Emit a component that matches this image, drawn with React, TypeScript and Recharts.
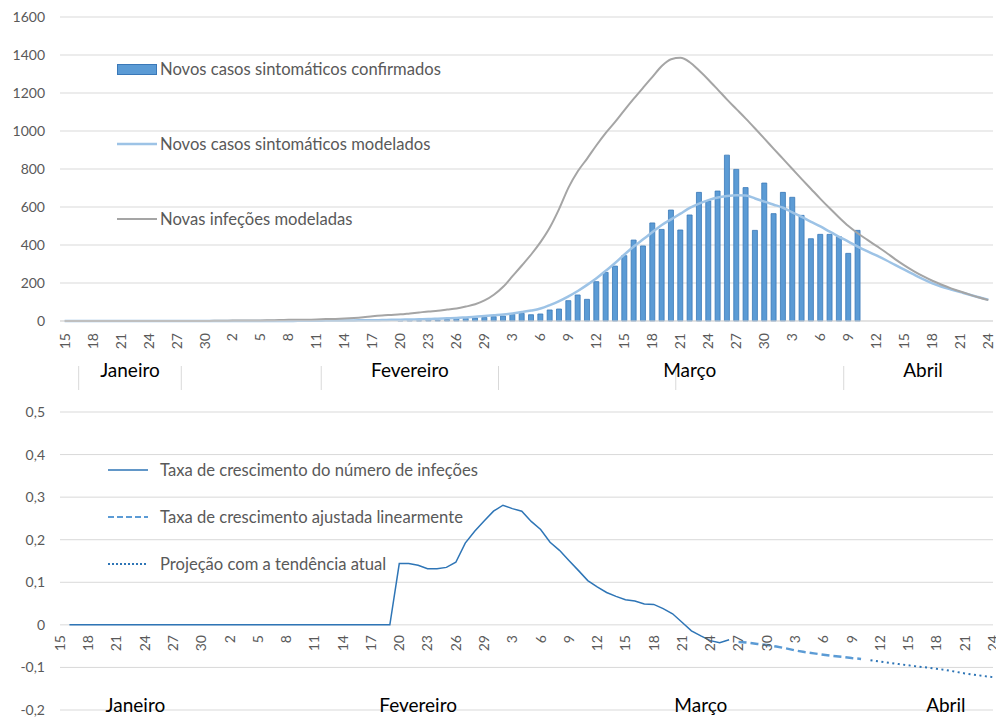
import { ComposedChart, Bar, Line, XAxis, YAxis, CartesianGrid, Legend } from 'recharts';

// eixo: um ponto por dia, rótulo a cada 3 dias
const dayTickLabels = [
  '15', '18', '21', '24', '27', '30', '2', '5', '8', '11', '14', '17', '20', '23', '26', '29', '3',
  '6', '9', '12', '15', '18', '21', '24', '27', '30', '3', '6', '9', '12', '15', '18', '21', '24',
];
const monthNames = ['Janeiro', 'Fevereiro', 'Março', 'Abril'];
const topMonthDays = [7, 37, 67, 92];
const topMonthBreaks = [2, 13, 28, 47, 66, 84];
const bottomMonthDays = [8, 38, 68, 94];

const novasInfecoes = [
  0, 0, 0, 0, 0, 0, 0, 0, 0, 0,
  0, 0, 0, 0, 0, 0, 1, 1, 2, 2,
  3, 3, 4, 5, 6, 7, 7, 8, 10, 11,
  13, 16, 20, 25, 29, 32, 35, 40, 45, 50,
  54, 60, 66, 76, 88, 108, 138, 180, 236, 292,
  350, 415, 492, 590, 702, 788, 855, 925, 990, 1048,
  1110, 1170, 1228, 1285, 1342, 1378, 1385, 1362, 1318, 1270,
  1218, 1165, 1115, 1065, 1013, 960, 906, 853, 800, 747,
  695, 643, 593, 545, 500, 462, 428, 395, 362, 326,
  293, 263, 236, 212, 191, 172, 155, 139, 124, 110,
];

const casosModelados = [
  0, 0, 0, 0, 0, 0, 0, 0, 0, 0,
  0, 0, 0, 0, 0, 0, 0, 0, 0, 0,
  0, 0, 0, 0, 0, 1, 1, 1, 2, 2,
  3, 3, 4, 4, 5, 6, 7, 8, 9, 10,
  12, 14, 16, 19, 22, 26, 30, 34, 40, 47,
  55, 66, 84, 105, 130, 158, 190, 225, 265, 305,
  350, 392, 430, 468, 505, 535, 565, 595, 618, 636,
  650, 658, 662, 660, 645, 628, 612, 596, 572, 548,
  522, 498, 470, 443, 418, 392, 368, 345, 321, 295,
  270, 245, 220, 198, 180, 166, 152, 138, 125, 112,
];

const confirmadosInicio = 36;
const casosConfirmados = [
  4, 5, 2, 6, 3, 8, 12, 14, 16, 19,
  23, 26, 35, 40, 33, 37, 58, 63, 107, 137,
  114, 207, 256, 289, 344, 426, 395, 516, 482, 584,
  479, 558, 677, 632, 684, 873, 798, 702, 477, 726,
  565, 677, 651, 556, 433, 456, 456, 444, 356, 477,
];

const taxaInicio = 1;
const taxaCrescimento = [
  0, 0, 0, 0, 0, 0, 0, 0, 0, 0,
  0, 0, 0, 0, 0, 0, 0, 0, 0, 0,
  0, 0, 0, 0, 0, 0, 0, 0, 0, 0,
  0, 0, 0, 0, 0, 0.144, 0.144, 0.14, 0.132, 0.132,
  0.135, 0.147, 0.192, 0.22, 0.244, 0.267, 0.281, 0.273, 0.267, 0.243,
  0.224, 0.194, 0.175, 0.151, 0.128, 0.104, 0.089, 0.076, 0.067, 0.059,
  0.056, 0.049, 0.048, 0.038, 0.026, 0.006, -0.014, -0.026, -0.037, -0.042,
  -0.035,
];

const ajustadaInicio = 72;
const taxaAjustada = [
  -0.04, -0.042, -0.045, -0.047, -0.051, -0.055, -0.06, -0.064, -0.067, -0.07,
  -0.073, -0.075, -0.078, -0.08,
];

const projecaoInicio = 86;
const projecao = [
  -0.083, -0.086, -0.089, -0.092, -0.095, -0.098, -0.1, -0.103, -0.106, -0.11,
  -0.114, -0.117, -0.12, -0.123,
];

const at = (arr: number[], start: number, day: number) => {
  const v = arr[day - start];
  return v === undefined ? null : v;
};

const data = novasInfecoes.map((v, day) => ({
  day,
  infecoes: v,
  modelados: casosModelados[day],
  confirmados: at(casosConfirmados, confirmadosInicio, day),
  taxa: at(taxaCrescimento, taxaInicio, day),
  ajustada: at(taxaAjustada, ajustadaInicio, day),
  projecao: at(projecao, projecaoInicio, day),
}));

const dayTicks = dayTickLabels.map((_, k) => k * 3);
const grey = '#595959';
const font = 'Lato, "Noto Sans", sans-serif';

const DayLabel = ({ x, y, value }: { x: number; y: number; value: number }) => (
  <text
    x={x}
    y={y}
    transform={`rotate(-90 ${x} ${y})`}
    textAnchor="end"
    dy="0.35em"
    fill={grey}
    fontSize={14}
  >
    {dayTickLabels[value / 3]}
  </text>
);

const TopDayTick = (props: any) => <DayLabel x={props.x} y={props.y + 12} value={props.payload.value} />;

const TopMonthTick = (props: any) => {
  const { x, y, payload } = props;
  const k = topMonthDays.indexOf(payload.value);
  if (k >= 0) {
    return (
      <text x={x} y={y + 16} textAnchor="middle" dominantBaseline="central" fontSize={19} fill="#000">
        {monthNames[k]}
      </text>
    );
  }
  const half = payload.offset || 4.7;
  return <line x1={x - half} x2={x - half} y1={y + 13} y2={y + 37} stroke="#d9d9d9" />;
};

const BottomTick = (props: any) => {
  const { x, y, payload } = props;
  const k = bottomMonthDays.indexOf(payload.value);
  if (k >= 0) {
    return (
      <text x={x} y={y - 6} textAnchor="middle" dominantBaseline="central" fontSize={19} fill="#000">
        {monthNames[k]}
      </text>
    );
  }
  return <DayLabel x={x} y={y - 75} value={payload.value} />;
};

const swatchRow = (swatch: any, label: string, gap: number, last: boolean) => (
  <div
    key={label}
    style={{ display: 'flex', alignItems: 'center', height: 20, marginBottom: last ? 0 : gap }}
  >
    {swatch}
    <span style={{ color: grey, fontSize: 16.6, whiteSpace: 'nowrap' }}>{label}</span>
  </div>
);

const lineSwatch = (color: string, width: number, dash?: string, space = 12) => (
  <svg width={40 + space} height={10} style={{ flex: 'none' }}>
    <line x1={0} x2={40} y1={5} y2={5} stroke={color} strokeWidth={width} strokeDasharray={dash} />
  </svg>
);

const TopLegend = () => (
  <div style={{ fontFamily: font }}>
    {swatchRow(
      <div
        style={{
          width: 38,
          height: 9,
          background: '#5b9bd5',
          border: '1px solid #3a78b8',
          marginRight: 3,
          flex: 'none',
        }}
      />,
      'Novos casos sintomáticos confirmados',
      55,
      false,
    )}
    {swatchRow(lineSwatch('#9dc3e6', 2.5, undefined, 3), 'Novos casos sintomáticos modelados', 55, false)}
    {swatchRow(lineSwatch('#a5a5a5', 2, undefined, 3), 'Novas infeções modeladas', 55, true)}
  </div>
);

const BottomLegend = () => (
  <div style={{ fontFamily: font }}>
    {swatchRow(lineSwatch('#2e75b6', 1.5), 'Taxa de crescimento do número de infeções', 27, false)}
    {swatchRow(lineSwatch('#5b9bd5', 2, '6 3'), 'Taxa de crescimento ajustada linearmente', 27, false)}
    {swatchRow(lineSwatch('#2e75b6', 2, '2 2'), 'Projeção com a tendência atual', 27, true)}
  </div>
);

const fmtTaxa = (v: number) => (v === 0 ? '0' : v.toFixed(1).replace('.', ','));

export default function App() {
  return (
    <div
      style={{
        position: 'fixed',
        left: 0,
        top: 0,
        width: 996,
        height: 718,
        overflow: 'hidden',
        fontFamily: font,
        background: '#fff',
      }}
    >
      <style>{'html, body { margin: 0; overflow: hidden; }'}</style>
      <div style={{ position: 'absolute', left: 0, top: 0 }}>
        <ComposedChart width={996} height={395} data={data} margin={{ top: 17, right: 3, bottom: 0, left: 0 }}>
          <CartesianGrid vertical={false} stroke="#d9d9d9" strokeWidth={1} />
          <XAxis
            dataKey="day"
            ticks={dayTicks}
            interval={0}
            tick={TopDayTick}
            tickSize={0}
            tickMargin={0}
            tickLine={false}
            axisLine={{ stroke: '#d9d9d9' }}
            height={32}
          />
          <XAxis
            xAxisId="meses"
            dataKey="day"
            ticks={[...topMonthDays, ...topMonthBreaks].sort((a, b) => a - b)}
            interval={0}
            tick={TopMonthTick}
            tickSize={0}
            tickMargin={0}
            tickLine={false}
            axisLine={false}
            height={42}
          />
          <YAxis
            width={60}
            domain={[0, 1600]}
            ticks={[0, 200, 400, 600, 800, 1000, 1200, 1400, 1600]}
            interval={0}
            axisLine={false}
            tickLine={false}
            tickMargin={9}
            tick={{ fill: grey, fontSize: 14 }}
          />
          <Legend
            layout="vertical"
            align="center"
            verticalAlign="middle"
            content={TopLegend}
            wrapperStyle={{ left: 117, top: 59, width: 420, height: 'auto' }}
          />
          <Bar
            dataKey="confirmados"
            barSize={5}
            fill="#5b9bd5"
            stroke="#3a78b8"
            strokeWidth={0.8}
            isAnimationActive={false}
          />
          <Line
            dataKey="modelados"
            type="monotone"
            stroke="#9dc3e6"
            strokeWidth={2.5}
            dot={false}
            isAnimationActive={false}
          />
          <Line
            dataKey="infecoes"
            type="monotone"
            stroke="#a5a5a5"
            strokeWidth={2}
            dot={false}
            isAnimationActive={false}
          />
        </ComposedChart>
      </div>
      <div style={{ position: 'absolute', left: 0, top: 395 }}>
        <ComposedChart width={996} height={323} data={data} margin={{ top: 17, right: 3, bottom: 0, left: 0 }}>
          <CartesianGrid vertical={false} stroke="#d9d9d9" strokeWidth={1} />
          <XAxis
            dataKey="day"
            ticks={[...dayTicks, ...bottomMonthDays].sort((a, b) => a - b)}
            interval={0}
            tick={BottomTick}
            tickSize={0}
            tickMargin={0}
            tickLine={false}
            axisLine={false}
            height={8}
          />
          <YAxis
            width={60}
            domain={[-0.2, 0.5]}
            ticks={[-0.2, -0.1, 0, 0.1, 0.2, 0.3, 0.4, 0.5]}
            interval={0}
            axisLine={false}
            tickLine={false}
            tickMargin={9}
            tickFormatter={fmtTaxa}
            tick={{ fill: grey, fontSize: 14 }}
          />
          <Legend
            layout="vertical"
            align="center"
            verticalAlign="middle"
            content={BottomLegend}
            wrapperStyle={{ left: 108, top: 65, width: 440, height: 'auto' }}
          />
          <Line
            dataKey="taxa"
            type="linear"
            stroke="#2e75b6"
            strokeWidth={1.5}
            dot={false}
            isAnimationActive={false}
          />
          <Line
            dataKey="ajustada"
            type="linear"
            stroke="#5b9bd5"
            strokeWidth={2.5}
            strokeDasharray="8 4"
            dot={false}
            isAnimationActive={false}
          />
          <Line
            dataKey="projecao"
            type="linear"
            stroke="#2e75b6"
            strokeWidth={2}
            strokeDasharray="2 3.5"
            dot={false}
            isAnimationActive={false}
          />
        </ComposedChart>
      </div>
    </div>
  );
}
